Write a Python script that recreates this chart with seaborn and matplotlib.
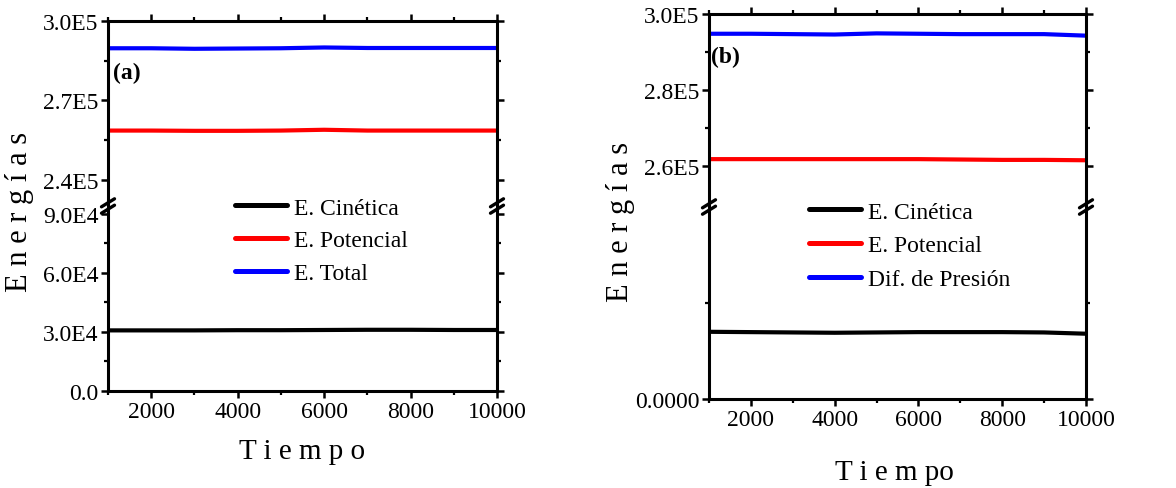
import numpy as np
import pandas as pd
import matplotlib
matplotlib.use("Agg")
import matplotlib.pyplot as plt
from matplotlib.lines import Line2D
from matplotlib.ticker import FixedLocator, FixedFormatter
import seaborn as sns

# ---------------- data ----------------
tiempo = [1000, 2000, 3000, 4000, 5000, 6000, 7000, 8000, 9000, 10000]

# panel (a)
a_cinetica = [3.08e4, 3.08e4, 3.08e4, 3.09e4, 3.09e4, 3.10e4, 3.11e4, 3.11e4, 3.10e4, 3.10e4]
a_potencial = [2.586e5, 2.586e5, 2.585e5, 2.585e5, 2.586e5, 2.589e5, 2.586e5, 2.586e5, 2.586e5, 2.586e5]
a_total = [2.897e5, 2.897e5, 2.895e5, 2.896e5, 2.897e5, 2.900e5, 2.898e5, 2.898e5, 2.898e5, 2.898e5]
a_labels = ["E. Cinética", "E. Potencial", "E. Total"]

# panel (b)
b_cinetica = [2.10e4, 2.09e4, 2.08e4, 2.07e4, 2.08e4, 2.09e4, 2.09e4, 2.09e4, 2.08e4, 2.04e4]
b_potencial = [2.618e5, 2.618e5, 2.618e5, 2.618e5, 2.618e5, 2.618e5, 2.617e5, 2.616e5, 2.616e5, 2.615e5]
b_presion = [2.948e5, 2.948e5, 2.947e5, 2.946e5, 2.949e5, 2.948e5, 2.947e5, 2.947e5, 2.947e5, 2.943e5]
b_labels = ["E. Cinética", "E. Potencial", "Dif. de Presión"]

x_major = [2000, 4000, 6000, 8000, 10000]
x_minor = [1000, 3000, 5000, 7000, 9000]
x_ticklabels = ["2000", "4000", "6000", "8000", "10000"]

a_top_major = [2.4e5, 2.7e5, 3.0e5]
a_top_minor = [2.55e5, 2.85e5]
a_top_labels = ["2.4E5", "2.7E5", "3.0E5"]
a_bot_major = [0, 3.0e4, 6.0e4, 9.0e4]
a_bot_minor = [1.5e4, 4.5e4, 7.5e4]
a_bot_labels = ["0.0", "3.0E4", "6.0E4", "9.0E4"]

b_top_major = [2.6e5, 2.8e5, 3.0e5]
b_top_minor = [2.7e5, 2.9e5]
b_top_labels = ["2.6E5", "2.8E5", "3.0E5"]
b_bot_major = [0]
b_bot_minor = [3.0e4]
b_bot_labels = ["0.0000"]

colors = ["#000000", "#ff0000", "#0000ff"]

# ---------------- style ----------------
sns.set_theme(style="ticks", rc={
    "axes.edgecolor": "black",
    "axes.linewidth": 2.2,
    "xtick.color": "black",
    "ytick.color": "black",
    "text.color": "black",
    "axes.labelcolor": "black",
})
plt.rcParams["font.family"] = ["Liberation Serif", "DejaVu Serif"]

W, H = 1176, 489
TICK_FS = 17
fig = plt.figure(figsize=(W / 100, H / 100), dpi=100)


def frac_rect(x0, x1, ytop, ybot):
    return [x0 / W, 1 - ybot / H, (x1 - x0) / W, (ybot - ytop) / H]


def long_frame(series, labels):
    rows = []
    for vals, lab in zip(series, labels):
        for t, v in zip(tiempo, vals):
            rows.append({"Tiempo": t, "Energía": v, "Serie": lab})
    return pd.DataFrame(rows)


def style_axis(ax, part, ylim, ymaj, ymin, ylab):
    ax.set_xlim(1000, 10000)
    ax.set_ylim(*ylim)
    ax.set_xlabel("")
    ax.set_ylabel("")
    ax.xaxis.set_major_locator(FixedLocator(x_major))
    ax.xaxis.set_minor_locator(FixedLocator(x_minor))
    ax.yaxis.set_major_locator(FixedLocator(ymaj))
    ax.yaxis.set_minor_locator(FixedLocator(ymin))
    ax.yaxis.set_major_formatter(FixedFormatter(ylab))
    for s in ax.spines.values():
        s.set_linewidth(2.2)
        s.set_visible(True)
    if part == "top":
        ax.spines["bottom"].set_visible(False)
        ax.tick_params(axis="x", which="both", top=True, bottom=False,
                       labelbottom=False, labeltop=False)
    else:
        ax.spines["top"].set_visible(False)
        ax.xaxis.set_major_formatter(FixedFormatter(x_ticklabels))
        ax.tick_params(axis="x", which="both", top=False, bottom=True,
                       labelbottom=True)
    ax.tick_params(axis="y", which="both", left=True, right=True,
                   labelleft=True, labelright=False)
    ax.tick_params(which="major", direction="out", length=5, width=1.8,
                   labelsize=TICK_FS, pad=2)
    ax.tick_params(which="minor", direction="out", length=3, width=1.6)


def break_marks(x_pix, y_pix):
    for dy in (-3.2, 3.2):
        xs = [x_pix - 6.5, x_pix + 6.5]
        ys = [y_pix + dy + 4.0, y_pix + dy - 4.0]
        fig.add_artist(Line2D([x / W for x in xs], [1 - y / H for y in ys],
                              color="black", lw=2.4, transform=fig.transFigure))


def panel(x0, x1, ytop, ybrk, ybot, series, labels,
          top_lim, top_maj, top_min, top_lab,
          bot_lim, bot_maj, bot_min, bot_lab):
    df = long_frame(series, labels)
    ax_t = fig.add_axes(frac_rect(x0, x1, ytop, ybrk))
    ax_b = fig.add_axes(frac_rect(x0, x1, ybrk, ybot))
    for ax in (ax_t, ax_b):
        sns.lineplot(data=df, x="Tiempo", y="Energía", hue="Serie",
                     palette=colors, hue_order=labels, linewidth=3.0,
                     legend=False, ax=ax)
    style_axis(ax_t, "top", top_lim, top_maj, top_min, top_lab)
    style_axis(ax_b, "bottom", bot_lim, bot_maj, bot_min, bot_lab)
    break_marks(x0, ybrk)
    break_marks(x1, ybrk)
    return ax_t, ax_b


panel(108, 497, 22, 207, 392, [a_cinetica, a_potencial, a_total], a_labels,
      (2.301e5, 3.0e5), a_top_major, a_top_minor, a_top_labels,
      (0, 9.4e4), a_bot_major, a_bot_minor, a_bot_labels)

panel(709, 1086, 15, 208, 400, [b_cinetica, b_potencial, b_presion], b_labels,
      (2.492e5, 3.0e5), b_top_major, b_top_minor, b_top_labels,
      (0, 6.0e4), b_bot_major, b_bot_minor, b_bot_labels)

# legends
for labels, (lx, ly), sp in ((a_labels, (235, 198), 0.48), (b_labels, (809, 202), 0.52)):
    handles = [Line2D([], [], color=c, lw=3.6) for c in colors]
    fig.legend(handles, labels, loc="upper left",
               bbox_to_anchor=(lx / W, 1 - ly / H), bbox_transform=fig.transFigure,
               frameon=False, borderpad=0, borderaxespad=0, handlelength=2.2,
               handletextpad=0.3, labelspacing=sp, fontsize=TICK_FS)

# panel tags
fig.text(113 / W, 1 - 73 / H, "(a)", fontsize=TICK_FS, fontweight="bold", va="center")
fig.text(711 / W, 1 - 57 / H, "(b)", fontsize=TICK_FS, fontweight="bold", va="center")

# axis titles
fig.text(302 / W, 1 - 452 / H, "T i e m p o", fontsize=21, ha="center", va="center")
fig.text(894 / W, 1 - 473 / H, "T i e m po", fontsize=21, ha="center", va="center")
fig.text(20 / W, 1 - 212 / H, "E n e r g í a s", fontsize=22, rotation=90,
         ha="center", va="center")
fig.text(621 / W, 1 - 222 / H, "E n e r g í a s", fontsize=22, rotation=90,
         ha="center", va="center")

fig.savefig("out.png", dpi=100)
